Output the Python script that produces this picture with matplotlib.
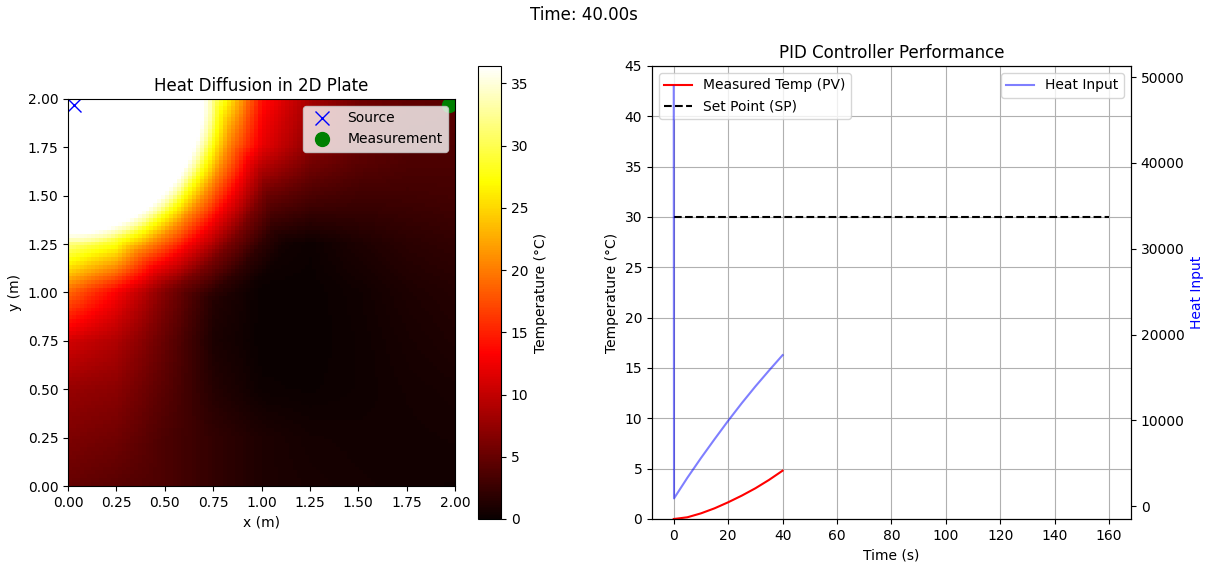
import numpy as np
import matplotlib
matplotlib.use("Agg")
import matplotlib.pyplot as plt

# ---------------- PID time series ----------------
time_s = [0, 0.1, 5, 10, 15, 20, 25, 30, 35, 40]
measured_temp = [0.0, 0.0, 0.17, 0.56, 1.06, 1.66, 2.32, 3.05, 3.88, 4.80]
heat_input = [48900, 900, 3300, 5600, 7800, 9950, 12000, 13950, 15800, 17600]
setpoint_time = [0, 160]
setpoint_temp = [30, 30]

# ---------------- plate temperature ----------------
grid_x = [0.0, 0.25, 0.5, 0.75, 1.0, 1.25, 1.5, 1.75, 2.0]
grid_y = [0.0, 0.25, 0.5, 0.75, 1.0, 1.25, 1.5, 1.75, 2.0]
# rows: y = 0.0 (bottom) ... 2.0 (top)
grid_temp = [
    [5.0, 4.3, 3.6, 2.2, 1.1, 0.8, 0.6, 0.5, 0.4],
    [6.3, 5.6, 3.6, 2.2, 1.1, 0.6, 0.5, 0.5, 0.6],
    [7.7, 7.0, 4.3, 1.5, 0.2, 0.1, 0.3, 0.6, 0.8],
    [11.0, 9.0, 5.0, 1.0, 0.0, 0.0, 0.3, 0.8, 1.2],
    [19.0, 13.0, 6.5, 1.5, 0.0, 0.0, 0.4, 1.1, 1.5],
    [32.0, 28.0, 15.0, 4.0, 0.8, 0.2, 1.1, 1.8, 2.2],
    [36.4, 36.4, 30.0, 11.0, 5.5, 3.6, 3.0, 3.0, 3.2],
    [36.4, 36.4, 36.4, 24.0, 12.0, 7.0, 5.0, 4.0, 3.8],
    [36.4, 36.4, 36.4, 32.0, 14.0, 8.5, 5.6, 4.7, 4.5],
]
# temperature vs. distance from the heated corner
radial_dist = [0.0, 0.70, 0.74, 0.78, 0.86, 0.98, 1.12, 1.25, 1.38]
radial_temp = [36.4, 36.4, 33.0, 28.0, 21.0, 13.0, 6.0, 2.0, 0.0]

source_xy = (0.03, 1.97)
measure_xy = (1.97, 1.97)
n_cells = 100

# build image cells from the read values
cell = 2.0 / n_cells
centers = (np.arange(n_cells) + 0.5) * cell
rows_x = np.array([np.interp(centers, grid_x, row) for row in grid_temp])
field = np.array([np.interp(centers, grid_y, rows_x[:, j]) for j in range(n_cells)]).T
XX, YY = np.meshgrid(centers, centers)
rr = np.sqrt(XX ** 2 + (2.0 - YY) ** 2)
field = np.maximum(field, np.interp(rr, radial_dist, radial_temp))

# ---------------- figure ----------------
fig = plt.figure(figsize=(12.08, 5.64), dpi=100)
fig.suptitle("Time: 40.00s", x=0.483, y=0.99, fontsize=12)

ax1 = fig.add_axes([0.0563, 0.0798, 0.3204, 0.8032])
cax = fig.add_axes([0.3957, 0.0798, 0.0190, 0.8032])
im = ax1.imshow(field, origin="lower", extent=[0, 2, 0, 2], cmap="hot",
                vmin=0, vmax=36.4)
ax1.plot(source_xy[0], source_xy[1], "bx", markersize=10, label="Source")
ax1.plot(measure_xy[0], measure_xy[1], "go", markersize=10, label="Measurement")
ax1.set_xlim(0, 2)
ax1.set_ylim(0, 2)
ax1.set_title("Heat Diffusion in 2D Plate")
ax1.set_xlabel("x (m)")
ax1.set_ylabel("y (m)")
ax1.legend(loc="upper right")
fig.colorbar(im, cax=cax, label="Temperature (°C)")

ax2 = fig.add_axes([0.5397, 0.0798, 0.3965, 0.8032])
ax2.plot(time_s, measured_temp, "r-", label="Measured Temp (PV)")
ax2.plot(setpoint_time, setpoint_temp, "k--", label="Set Point (SP)")
ax2.set_ylim(0, 45)
ax2.set_xlabel("Time (s)")
ax2.set_ylabel("Temperature (°C)")
ax2.set_title("PID Controller Performance")
ax2.grid(True)
ax2.legend(loc="upper left")

ax3 = ax2.twinx()
ax3.plot(time_s, heat_input, "b-", alpha=0.5, label="Heat Input")
ax3.set_ylabel("Heat Input", color="b")
ax3.legend(loc="upper right")

fig.savefig("out.png", dpi=100)
